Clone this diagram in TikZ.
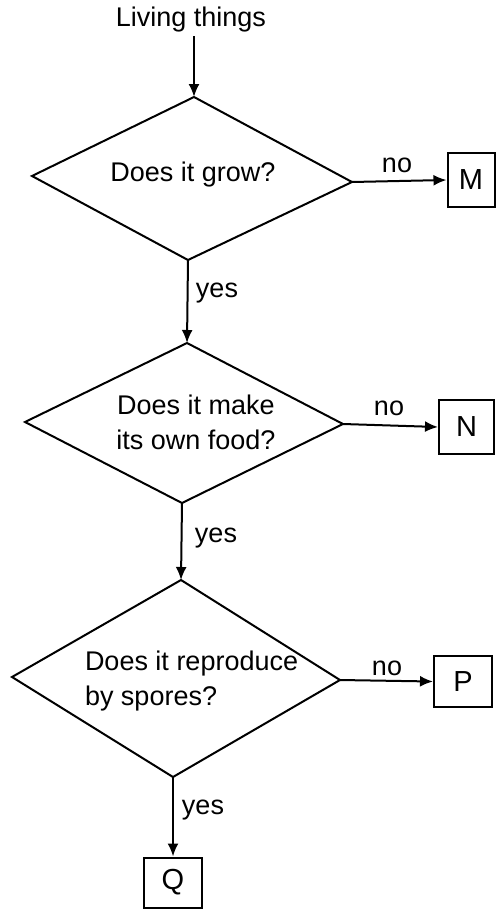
\documentclass[tikz,border=0pt]{standalone}
\usepackage{fontspec}
\setmainfont{Liberation Sans}
\usetikzlibrary{arrows.meta}
\begin{document}
\begin{tikzpicture}[x=1pt,y=-1pt, line width=2pt,
  lbl/.style={font=\fontsize{27}{35}\selectfont, inner sep=0pt},
  flow/.style={-{Latex[length=13pt,width=11pt]}},
  leaf/.style={draw, font=\fontsize{29}{32}\selectfont, inner sep=0pt}]
\useasboundingbox (0,0) rectangle (496,910);
% start label
\node[lbl] (start) at (191,19.5) {Living things};
% diamond 1
\coordinate (d1t) at (194,97);
\coordinate (d1r) at (352,182);
\coordinate (d1b) at (188,260);
\coordinate (d1l) at (32,176);
\draw[line join=miter] (d1t) -- (d1r) -- (d1b) -- (d1l) -- cycle;
\node[lbl] (q1) at (193,175) {Does it grow?};
% diamond 2
\coordinate (d2t) at (187,343);
\coordinate (d2r) at (343,424);
\coordinate (d2b) at (182,503);
\coordinate (d2l) at (25,422);
\draw[line join=miter] (d2t) -- (d2r) -- (d2b) -- (d2l) -- cycle;
\node[lbl, align=center] (q2) at (196,422) {Does it make\\its own food?};
% diamond 3
\coordinate (d3t) at (181,580);
\coordinate (d3r) at (340,680);
\coordinate (d3b) at (173,777);
\coordinate (d3l) at (12,677);
\draw[line join=miter] (d3t) -- (d3r) -- (d3b) -- (d3l) -- cycle;
\node[lbl, align=left, anchor=west] (q3) at (84,681.5) {Does it reproduce\\by spores?};
% leaves
\node[leaf, minimum width=47pt, minimum height=54pt] (M) at (471,180) {M};
\node[leaf, minimum width=55pt, minimum height=54pt] (N) at (466.5,427) {N};
\node[leaf, minimum width=58pt, minimum height=51pt] (P) at (463,681.5) {P};
\node[leaf, minimum width=58pt, minimum height=50pt] (Q) at (173,882.5) {Q};
% connectors
\draw[flow] (d1t |- start.south) ++(0,3) -- (d1t);
\draw[flow] (d1r) -- (M.west);
\draw[flow] (d1b) -- (d2t);
\draw[flow] (d2r) -- (N.west);
\draw[flow] (d2b) -- (d3t);
\draw[flow] (d3r) -- (P.west);
\draw[flow] (d3b) -- (Q.north);
% edge labels
\node[lbl] (no1) at (397,165) {no};
\node[lbl] (no2) at (389,408) {no};
\node[lbl] (no3) at (387,668) {no};
\node[lbl] (yes1) at (217,293) {yes};
\node[lbl] (yes2) at (216,538) {yes};
\node[lbl] (yes3) at (203,810) {yes};
\end{tikzpicture}
\end{document}
